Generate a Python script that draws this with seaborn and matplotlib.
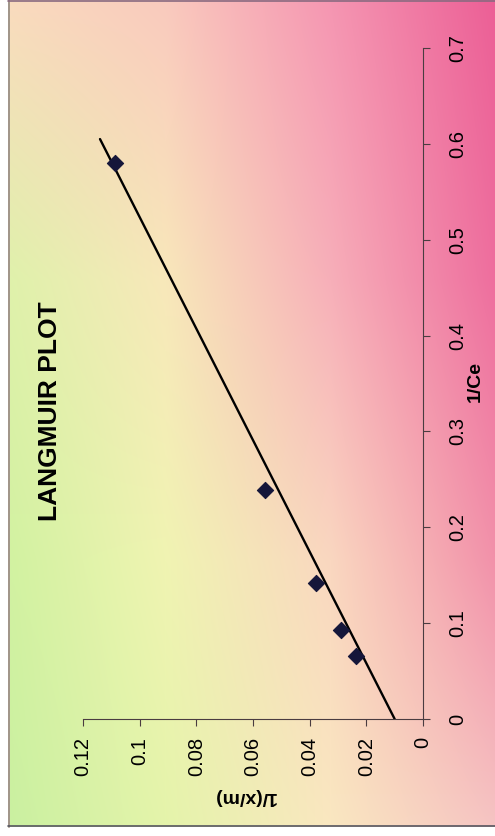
import numpy as np
import pandas as pd
import matplotlib
matplotlib.use("Agg")
import matplotlib.pyplot as plt
import seaborn as sns
from matplotlib.lines import Line2D
from matplotlib.patches import Rectangle

# ---- data ----
inv_ce = [0.0656, 0.0927, 0.1417, 0.2385, 0.580]     # 1/Ce
inv_qm = [0.0237, 0.0290, 0.0378, 0.0558, 0.1087]    # 1/(x/m)
fit_ce = [0.0, 0.605]                                 # trend line ends, 1/Ce
fit_qm = [0.0100, 0.1140]                             # trend line ends, 1/(x/m)
ce_ticks = [0, 0.1, 0.2, 0.3, 0.4, 0.5, 0.6, 0.7]
ce_ticklabels = ["0", "0.1", "0.2", "0.3", "0.4", "0.5", "0.6", "0.7"]
qm_ticks = [0, 0.02, 0.04, 0.06, 0.08, 0.1, 0.12]
qm_ticklabels = ["0", "0.02", "0.04", "0.06", "0.08", "0.1", "0.12"]
title = "LANGMUIR PLOT"
x_label = "1/Ce"
y_label = "1/(x/m)"

sns.set_theme(style="ticks")
plt.rcParams["font.family"] = ["Liberation Sans", "DejaVu Sans"]

W, H = 495, 836
fig = plt.figure(figsize=(W / 100, H / 100), dpi=100)

# ---- background gradient (photo-like paper) ----
gx = np.array([0, 165, 330, 495])
gy = np.array([0, 280, 560, 836])
grid = np.array([
    [(250, 220, 190), (250, 202, 190), (245, 150, 178), (236, 95, 150)],
    [(222, 242, 170), (248, 232, 186), (247, 175, 185), (238, 110, 158)],
    [(208, 242, 160), (240, 244, 178), (250, 215, 192), (242, 145, 170)],
    [(200, 240, 160), (228, 244, 170), (250, 232, 192), (246, 198, 196)],
], dtype=float) / 255.0
xs = np.arange(W)
ys = np.arange(H)
tmp = np.empty((4, W, 3))
for r in range(4):
    for c in range(3):
        tmp[r, :, c] = np.interp(xs, gx, grid[r, :, c])
img = np.empty((H, W, 3))
for c in range(3):
    for i in range(W):
        img[:, i, c] = np.interp(ys, gy, tmp[:, i, c])

bg = fig.add_axes([0, 0, 1, 1], zorder=0)
bg.imshow(img, extent=[0, 1, 0, 1], aspect="auto", origin="upper")
bg.set_xlim(0, 1)
bg.set_ylim(0, 1)
bg.axis("off")
# white margins and photo frame
bg.add_patch(Rectangle((0, 0), 8 / W, 1, color="white", zorder=2))
bg.add_patch(Rectangle((0, 0), 1, (H - 827) / H, color="white", zorder=2))
bg.add_line(Line2D([9 / W, 9 / W], [(H - 827) / H, 1], color="#a09488", lw=1.4, zorder=3))
bg.add_line(Line2D([8 / W, 1], [(H - 826) / H, (H - 826) / H], color="#55555f", lw=1.2, zorder=3))
bg.add_line(Line2D([8 / W, 1], [1 - 1 / H, 1 - 1 / H], color="#8a6a80", lw=1.2, zorder=3))

# ---- main axes (chart is drawn rotated 90 degrees) ----
left, right, bottom, top = 83, 423, 719, 48
ax = fig.add_axes([left / W, (H - bottom) / H, (right - left) / W, (bottom - top) / H], zorder=1)
ax.patch.set_alpha(0)

sns.lineplot(x=fit_qm, y=fit_ce, sort=False, color="black", lw=1.7, ax=ax, zorder=2)
sns.scatterplot(x=inv_qm, y=inv_ce, marker="D", s=68, color="#15163a",
                edgecolor="#15163a", linewidth=0.8, ax=ax, zorder=3)

ax.set_xlim(0.12, 0)
ax.set_ylim(0, 0.7)
ax.set_xticks(qm_ticks)
ax.set_xticklabels(qm_ticklabels)
ax.set_yticks(ce_ticks)
ax.set_yticklabels(ce_ticklabels)

for s in ["top", "left"]:
    ax.spines[s].set_visible(False)
for s in ["right", "bottom"]:
    ax.spines[s].set_color("#4a3c40")
    ax.spines[s].set_linewidth(0.8)

ax.yaxis.tick_right()
ax.yaxis.set_label_position("right")
ax.tick_params(axis="y", direction="out", length=5, width=0.8, color="#4a3c40",
               pad=13, labelsize=14.5, labelcolor="black", labelrotation=90,
               left=False, right=True)
ax.tick_params(axis="x", direction="out", length=5, width=0.8, color="#4a3c40",
               pad=8, labelsize=14.5, labelcolor="black", labelrotation=90)
for lbl in ax.get_yticklabels():
    lbl.set_verticalalignment("center")

ax.set_xlabel(y_label, fontsize=14, fontweight="bold", rotation=180, color="black")
ax.xaxis.set_label_coords((244 - left) / (right - left), (bottom - 797) / (bottom - top))
ax.xaxis.label.set_verticalalignment("center")
ax.xaxis.label.set_horizontalalignment("center")

ax.set_ylabel(x_label, fontsize=14, fontweight="bold", rotation=90, color="black")
ax.yaxis.set_label_coords((475 - left) / (right - left), (bottom - 382) / (bottom - top))
ax.yaxis.label.set_verticalalignment("center")
ax.yaxis.label.set_horizontalalignment("center")

fig.text(50 / W, (H - 411) / H, title, rotation=90, ha="center", va="center",
         fontsize=19, fontweight="bold", color="black", zorder=5)

fig.savefig("out.png", dpi=100)
